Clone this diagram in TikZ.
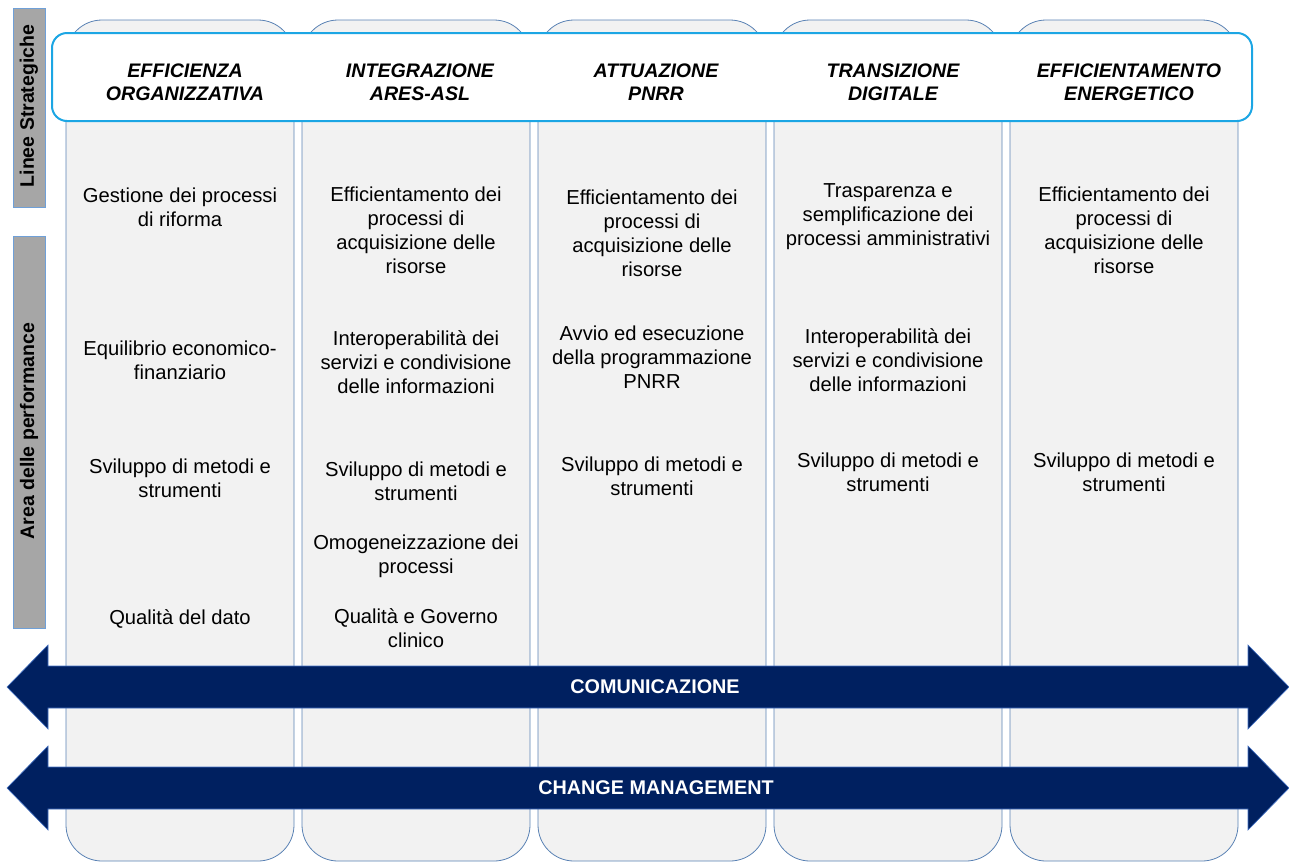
\documentclass[tikz,border=0pt]{standalone}
\usepackage{fontspec}
\setmainfont{Liberation Sans}
\usetikzlibrary{positioning}
\definecolor{colfill}{HTML}{F2F2F2}
\definecolor{colline}{HTML}{5A82B4}
\definecolor{barline}{HTML}{1CA6E4}
\definecolor{sidefill}{HTML}{A6A6A6}
\definecolor{sideline}{HTML}{6FA0D8}
\definecolor{navy}{HTML}{002060}
\definecolor{navyline}{HTML}{4472C4}
\tikzset{
  colbox/.style={draw=colline, line width=0.8pt, fill=colfill, rounded corners=36pt},
  topbar/.style={draw=barline, line width=2pt, fill=white, rounded corners=15pt},
  sidebox/.style={draw=sideline, line width=0.8pt, fill=sidefill},
  sidetxt/.style={font=\fontsize{19.5}{22}\selectfont\bfseries, rotate=90, text=black},
  head/.style={font=\fontsize{19.6}{23}\selectfont\bfseries\itshape, align=center, text=black},
  body/.style={font=\fontsize{20.2}{24}\selectfont, align=center, text=black},
  bigarrow/.style={fill=navy, draw=navyline, line width=0.6pt},
  arrowtxt/.style={font=\fontsize{19.8}{22}\selectfont\bfseries, text=white}
}
\begin{document}
\begin{tikzpicture}[x=1pt,y=-1pt]
\useasboundingbox (0,0) rectangle (1289,863);
% side labels
\draw[sidebox] (13,8) rectangle (45,207);
\node[sidetxt] (ls) at (29,106) {Linee Strategiche};
\draw[sidebox] (13,236) rectangle (45,628);
\node[sidetxt] (ap) at (29,431) {Area delle performance};
% columns
\foreach \i/\xl in {1/66,2/302,3/538,4/774,5/1010}{
  \draw[colbox] (\xl,20) rectangle ++(228,841);
}
% top bar
\draw[topbar] (52,33) rectangle (1252,121);
% headers
\node[head] (h1) at (185,82) {EFFICIENZA\\ORGANIZZATIVA};
\node[head] (h2) at (420,82) {INTEGRAZIONE\\ARES-ASL};
\node[head] (h3) at (656,82) {ATTUAZIONE\\PNRR};
\node[head] (h4) at (893,82) {TRANSIZIONE\\DIGITALE};
\node[head] (h5) at (1129,82) {EFFICIENTAMENTO\\ENERGETICO};
% column 1
\node[body] (a1) at (180,207) {Gestione dei processi\\di riforma};
\node[body] (a2) at (180,360) {Equilibrio economico-\\finanziario};
\node[body] (a3) at (180,478) {Sviluppo di metodi e\\strumenti};
\node[body] (a4) at (180,619) {Qualità del dato};
% column 2
\node[body] (b1) at (416,230) {Efficientamento dei\\processi di\\acquisizione delle\\risorse};
\node[body] (b2) at (416,362) {Interoperabilità dei\\servizi e condivisione\\delle informazioni};
\node[body] (b3) at (416,481) {Sviluppo di metodi e\\strumenti};
\node[body] (b4) at (416,556) {Omogeneizzazione dei\\processi};
\node[body] (b5) at (416,628) {Qualità e Governo\\clinico};
% column 3
\node[body] (c1) at (652,233) {Efficientamento dei\\processi di\\acquisizione delle\\risorse};
\node[body] (c2) at (652,357) {Avvio ed esecuzione\\della programmazione\\PNRR};
\node[body] (c3) at (652,476) {Sviluppo di metodi e\\strumenti};
% column 4
\node[body] (d1) at (888,217) {Trasparenza e\\semplificazione dei\\processi amministrativi};
\node[body] (d2) at (888,360) {Interoperabilità dei\\servizi e condivisione\\delle informazioni};
\node[body] (d3) at (888,472) {Sviluppo di metodi e\\strumenti};
% column 5
\node[body] (e1) at (1124,230) {Efficientamento dei\\processi di\\acquisizione delle\\risorse};
\node[body] (e2) at (1124,472) {Sviluppo di metodi e\\strumenti};
% arrows
\draw[bigarrow] (7,687) -- (48,645) -- (48,666) -- (1248,666) -- (1248,645) -- (1289,687)
  -- (1248,729) -- (1248,708) -- (48,708) -- (48,729) -- cycle;
\node[arrowtxt] (com) at (655,687) {COMUNICAZIONE};
\draw[bigarrow] (7,788) -- (48,746) -- (48,767) -- (1248,767) -- (1248,746) -- (1289,788)
  -- (1248,830) -- (1248,809) -- (48,809) -- (48,830) -- cycle;
\node[arrowtxt] (chm) at (656,788) {CHANGE MANAGEMENT};
\end{tikzpicture}
\end{document}
